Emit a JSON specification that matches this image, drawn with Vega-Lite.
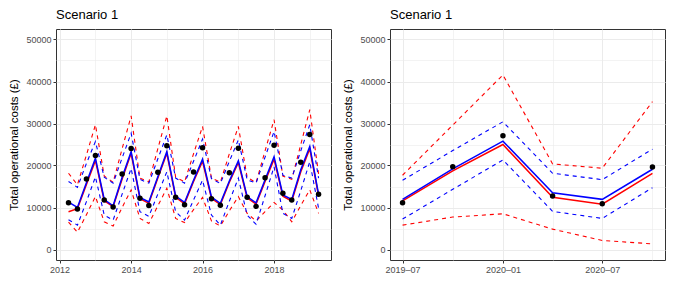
{
  "$schema": "https://vega.github.io/schema/vega-lite/v6.json",
  "background": "white",
  "padding": {"left": 8, "top": 8, "right": 11, "bottom": 5},
  "spacing": 10,
  "config": {
    "font": "Liberation Sans",
    "view": {"stroke": "#333333", "strokeWidth": 1},
    "axis": {
      "labelFont": "Liberation Sans", "labelFontSize": 9, "labelColor": "#4d4d4d",
      "titleFont": "Liberation Sans", "titleFontSize": 11.5, "titleFontWeight": "normal", "titleColor": "#000000",
      "tickColor": "#333333", "tickSize": 3, "domain": false, "gridColor": "#ebebeb", "labelPadding": 2
    },
    "title": {"font": "Liberation Sans", "fontSize": 13, "fontWeight": "normal", "anchor": "start", "frame": "group", "offset": 7, "color": "#000000"}
  },
  "datasets": {
    "quarterly": [
      {"date": "2012-04-01T00:00:00", "obs": 11140, "blue": 11300, "red": 9000, "bhi": 16200, "blo": 7100, "rhi": 18150, "rlo": 6500},
      {"date": "2012-07-01T00:00:00", "obs": 9630, "blue": 10000, "red": 9700, "bhi": 14800, "blo": 5800, "rhi": 15400, "rlo": 4100},
      {"date": "2012-10-01T00:00:00", "obs": 16790, "blue": 15900, "red": 15500, "bhi": 20500, "blo": 11400, "rhi": 22500, "rlo": 8300},
      {"date": "2013-01-01T00:00:00", "obs": 22360, "blue": 21740, "red": 21200, "bhi": 25700, "blo": 17300, "rhi": 29700, "rlo": 12600},
      {"date": "2013-04-01T00:00:00", "obs": 11780, "blue": 11900, "red": 11600, "bhi": 17200, "blo": 8200, "rhi": 17500, "rlo": 6600},
      {"date": "2013-07-01T00:00:00", "obs": 10100, "blue": 10400, "red": 10200, "bhi": 15800, "blo": 7000, "rhi": 16000, "rlo": 5600},
      {"date": "2013-10-01T00:00:00", "obs": 17990, "blue": 17200, "red": 16800, "bhi": 21800, "blo": 13200, "rhi": 24000, "rlo": 10000},
      {"date": "2014-01-01T00:00:00", "obs": 24040, "blue": 23300, "red": 22900, "bhi": 27700, "blo": 19300, "rhi": 31800, "rlo": 14200},
      {"date": "2014-04-01T00:00:00", "obs": 12180, "blue": 12400, "red": 12100, "bhi": 16700, "blo": 9000, "rhi": 17000, "rlo": 7400},
      {"date": "2014-07-01T00:00:00", "obs": 10500, "blue": 11300, "red": 11000, "bhi": 15800, "blo": 7900, "rhi": 16100, "rlo": 6200},
      {"date": "2014-10-01T00:00:00", "obs": 18390, "blue": 17300, "red": 17000, "bhi": 21600, "blo": 13200, "rhi": 24000, "rlo": 10400},
      {"date": "2015-01-01T00:00:00", "obs": 24680, "blue": 23300, "red": 22900, "bhi": 27300, "blo": 18500, "rhi": 31800, "rlo": 14600},
      {"date": "2015-04-01T00:00:00", "obs": 12420, "blue": 12700, "red": 12400, "bhi": 17000, "blo": 9000, "rhi": 17200, "rlo": 7400},
      {"date": "2015-07-01T00:00:00", "obs": 10660, "blue": 11200, "red": 10900, "bhi": 15800, "blo": 7000, "rhi": 16100, "rlo": 6400},
      {"date": "2015-10-01T00:00:00", "obs": 18470, "blue": 16500, "red": 16200, "bhi": 21000, "blo": 11800, "rhi": 22800, "rlo": 9500},
      {"date": "2016-01-01T00:00:00", "obs": 24200, "blue": 21500, "red": 21000, "bhi": 26300, "blo": 16500, "rhi": 29300, "rlo": 12400},
      {"date": "2016-04-01T00:00:00", "obs": 12090, "blue": 12500, "red": 12200, "bhi": 16900, "blo": 8200, "rhi": 17000, "rlo": 6800},
      {"date": "2016-07-01T00:00:00", "obs": 10510, "blue": 11000, "red": 10700, "bhi": 15700, "blo": 5800, "rhi": 16000, "rlo": 5600},
      {"date": "2016-10-01T00:00:00", "obs": 18300, "blue": 16300, "red": 16000, "bhi": 21000, "blo": 11500, "rhi": 22800, "rlo": 9200},
      {"date": "2017-01-01T00:00:00", "obs": 24120, "blue": 21100, "red": 20700, "bhi": 26100, "blo": 17000, "rhi": 29300, "rlo": 12600},
      {"date": "2017-04-01T00:00:00", "obs": 12420, "blue": 12600, "red": 12300, "bhi": 16600, "blo": 8200, "rhi": 17200, "rlo": 8600},
      {"date": "2017-07-01T00:00:00", "obs": 10270, "blue": 11100, "red": 10800, "bhi": 15800, "blo": 6000, "rhi": 15900, "rlo": 6800},
      {"date": "2017-10-01T00:00:00", "obs": 17110, "blue": 16600, "red": 16200, "bhi": 22000, "blo": 12800, "rhi": 23500, "rlo": 9000},
      {"date": "2018-01-01T00:00:00", "obs": 24840, "blue": 22100, "red": 21500, "bhi": 28100, "blo": 19700, "rhi": 30900, "rlo": 11200},
      {"date": "2018-04-01T00:00:00", "obs": 13380, "blue": 13000, "red": 12700, "bhi": 17700, "blo": 8600, "rhi": 17500, "rlo": 9400},
      {"date": "2018-07-01T00:00:00", "obs": 11780, "blue": 11900, "red": 11500, "bhi": 17000, "blo": 7400, "rhi": 16700, "rlo": 6600},
      {"date": "2018-10-01T00:00:00", "obs": 20780, "blue": 19000, "red": 18500, "bhi": 23500, "blo": 14000, "rhi": 25000, "rlo": 10500},
      {"date": "2019-01-01T00:00:00", "obs": 27380, "blue": 24500, "red": 24000, "bhi": 29700, "blo": 20900, "rhi": 33300, "rlo": 14200},
      {"date": "2019-04-01T00:00:00", "obs": 13140, "blue": 13140, "red": 12800, "bhi": 17000, "blo": 9800, "rhi": 18000, "rlo": 8600}
    ],
    "recent": [
      {"date": "2019-07-01T00:00:00", "obs": 11140, "blue": 11940, "red": 11600, "bhi": 16480, "blo": 7240, "rhi": 17680, "rlo": 5800},
      {"date": "2019-10-01T00:00:00", "obs": 19730, "blue": 19200, "red": 18700, "bhi": 23550, "blo": 14330, "rhi": 29620, "rlo": 7720},
      {"date": "2020-01-01T00:00:00", "obs": 27060, "blue": 25800, "red": 24990, "bhi": 30410, "blo": 21330, "rhi": 41570, "rlo": 8500},
      {"date": "2020-04-01T00:00:00", "obs": 12730, "blue": 13520, "red": 12420, "bhi": 18150, "blo": 9080, "rhi": 20380, "rlo": 4850},
      {"date": "2020-07-01T00:00:00", "obs": 10900, "blue": 11940, "red": 10800, "bhi": 16630, "blo": 7400, "rhi": 19350, "rlo": 2150},
      {"date": "2020-10-01T00:00:00", "obs": 19660, "blue": 19110, "red": 18150, "bhi": 23890, "blo": 14720, "rhi": 35190, "rlo": 1340}
    ]
  },
  "hconcat": [
    {
      "title": "Scenario 1",
      "width": 275, "height": 231,
      "data": {"name": "quarterly"},
      "encoding": {
        "x": {"field": "date", "type": "temporal", "title": null,
          "scale": {"domain": [{"year": 2011, "month": 11, "date": 25}, {"year": 2019, "month": 8, "date": 6}], "nice": false},
          "axis": {
            "values": [{"year": 2012, "month": 1, "date": 1}, {"year": 2013, "month": 1, "date": 1}, {"year": 2014, "month": 1, "date": 1}, {"year": 2015, "month": 1, "date": 1}, {"year": 2016, "month": 1, "date": 1}, {"year": 2017, "month": 1, "date": 1}, {"year": 2018, "month": 1, "date": 1}, {"year": 2019, "month": 1, "date": 1}],
            "labelExpr": "year(datum.value) % 2 == 0 ? timeFormat(datum.value, '%Y') : ''",
            "tickOpacity": {"condition": {"test": "year(datum.value) % 2 == 0", "value": 1}, "value": 0},
            "gridWidth": {"condition": {"test": "year(datum.value) % 2 == 0", "value": 1}, "value": 0.6},
            "labelFlush": false, "labelOverlap": false
          }
        },
        "y": {"type": "quantitative", "title": "Total operational costs (£)",
          "scale": {"domain": [-2500, 52500], "nice": false, "zero": false},
          "axis": {
            "values": [0, 5000, 10000, 15000, 20000, 25000, 30000, 35000, 40000, 45000, 50000],
            "labelExpr": "datum.value % 10000 == 0 ? format(datum.value, 'd') : ''",
            "tickOpacity": {"condition": {"test": "datum.value % 10000 == 0", "value": 1}, "value": 0},
            "gridWidth": {"condition": {"test": "datum.value % 10000 == 0", "value": 1}, "value": 0.6},
            "titlePadding": 6, "labelOverlap": false
          }
        }
      },
      "layer": [
        {"mark": {"type": "line", "color": "#ff0000", "strokeWidth": 1.1, "strokeDash": [4, 4]}, "encoding": {"y": {"field": "rhi"}}},
        {"mark": {"type": "line", "color": "#ff0000", "strokeWidth": 1.1, "strokeDash": [4, 4]}, "encoding": {"y": {"field": "rlo"}}},
        {"mark": {"type": "line", "color": "#ff0000", "strokeWidth": 1.5}, "encoding": {"y": {"field": "red"}}},
        {"mark": {"type": "line", "color": "#0000ff", "strokeWidth": 1.1, "strokeDash": [4, 4]}, "encoding": {"y": {"field": "bhi"}}},
        {"mark": {"type": "line", "color": "#0000ff", "strokeWidth": 1.1, "strokeDash": [4, 4]}, "encoding": {"y": {"field": "blo"}}},
        {"mark": {"type": "line", "color": "#0000ff", "strokeWidth": 1.5}, "encoding": {"y": {"field": "blue"}}},
        {"mark": {"type": "circle", "color": "#000000", "opacity": 1, "size": 30}, "encoding": {"y": {"field": "obs"}}}
      ]
    },
    {
      "title": "Scenario 1",
      "width": 275, "height": 231,
      "data": {"name": "recent"},
      "encoding": {
        "x": {"field": "date", "type": "temporal", "title": null,
          "scale": {"domain": [{"year": 2019, "month": 6, "date": 8}, {"year": 2020, "month": 10, "date": 24}], "nice": false},
          "axis": {
            "values": [{"year": 2019, "month": 7, "date": 1}, {"year": 2019, "month": 10, "date": 1}, {"year": 2020, "month": 1, "date": 1}, {"year": 2020, "month": 4, "date": 1}, {"year": 2020, "month": 7, "date": 1}, {"year": 2020, "month": 10, "date": 1}],
            "labelExpr": "month(datum.value) % 6 == 0 ? timeFormat(datum.value, '%Y–%m') : ''",
            "tickOpacity": {"condition": {"test": "month(datum.value) % 6 == 0", "value": 1}, "value": 0},
            "gridWidth": {"condition": {"test": "month(datum.value) % 6 == 0", "value": 1}, "value": 0.6},
            "labelFlush": false, "labelOverlap": false
          }
        },
        "y": {"type": "quantitative", "title": "Total operational costs (£)",
          "scale": {"domain": [-2500, 52500], "nice": false, "zero": false},
          "axis": {
            "values": [0, 5000, 10000, 15000, 20000, 25000, 30000, 35000, 40000, 45000, 50000],
            "labelExpr": "datum.value % 10000 == 0 ? format(datum.value, 'd') : ''",
            "tickOpacity": {"condition": {"test": "datum.value % 10000 == 0", "value": 1}, "value": 0},
            "gridWidth": {"condition": {"test": "datum.value % 10000 == 0", "value": 1}, "value": 0.6},
            "titlePadding": 6, "labelOverlap": false
          }
        }
      },
      "layer": [
        {"mark": {"type": "line", "color": "#ff0000", "strokeWidth": 1.1, "strokeDash": [4, 4]}, "encoding": {"y": {"field": "rhi"}}},
        {"mark": {"type": "line", "color": "#ff0000", "strokeWidth": 1.1, "strokeDash": [4, 4]}, "encoding": {"y": {"field": "rlo"}}},
        {"mark": {"type": "line", "color": "#ff0000", "strokeWidth": 1.5}, "encoding": {"y": {"field": "red"}}},
        {"mark": {"type": "line", "color": "#0000ff", "strokeWidth": 1.1, "strokeDash": [4, 4]}, "encoding": {"y": {"field": "bhi"}}},
        {"mark": {"type": "line", "color": "#0000ff", "strokeWidth": 1.1, "strokeDash": [4, 4]}, "encoding": {"y": {"field": "blo"}}},
        {"mark": {"type": "line", "color": "#0000ff", "strokeWidth": 1.5}, "encoding": {"y": {"field": "blue"}}},
        {"mark": {"type": "circle", "color": "#000000", "opacity": 1, "size": 30}, "encoding": {"y": {"field": "obs"}}}
      ]
    }
  ]
}
